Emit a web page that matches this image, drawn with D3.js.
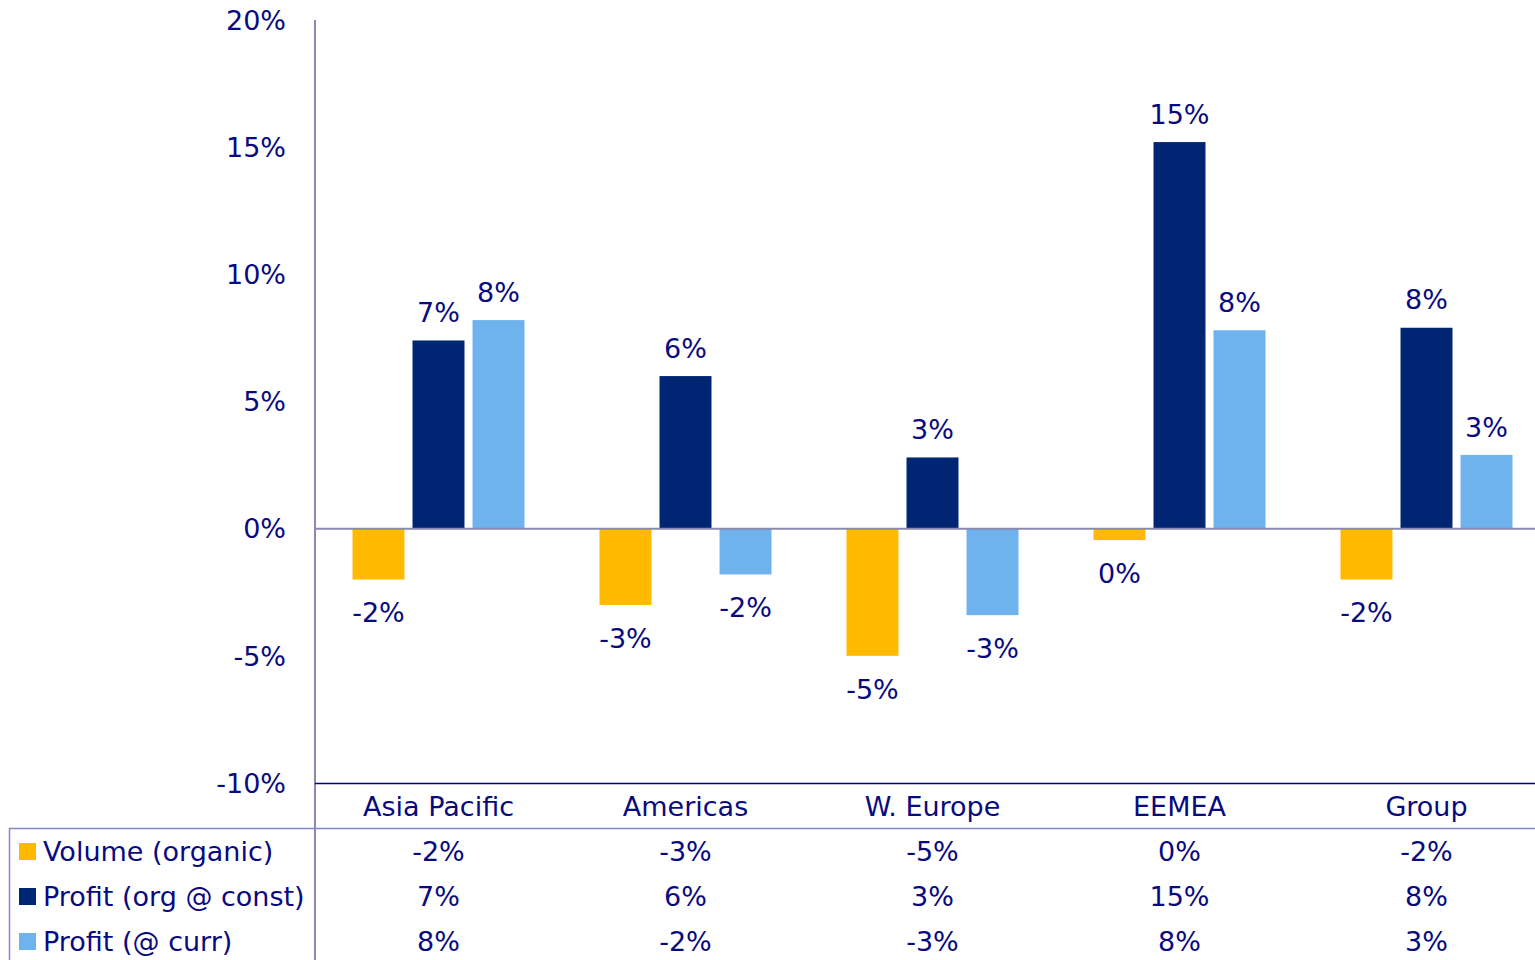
<!DOCTYPE html>
<html><head><meta charset="utf-8">
<script src="https://cdn.jsdelivr.net/npm/d3@7"></script>
<style>html,body{margin:0;padding:0;background:#fff;overflow:hidden}</style>
</head><body>
<svg id="c" width="1535" height="960"></svg>
<script>
const categories = ["Asia Pacific", "Americas", "W. Europe", "EEMEA", "Group"];
const seriesNames = ["Volume (organic)", "Profit (org @ const)", "Profit (@ curr)"];
const volume = [-2.0, -3.0, -5.0, -0.45, -2.0];
const profitConst = [7.4, 6.0, 2.8, 15.2, 7.9];
const profitCurr = [8.2, -1.8, -3.4, 7.8, 2.9];
const yTicks = [-10, -5, 0, 5, 10, 15, 20];
const colors = ["#FFBA00", "#002572", "#6EB3EE"];

const series = [volume, profitConst, profitCurr];
const fmt = v => `${Math.round(v)}%`;
const textColor = "#0a0a80";
const font = "DejaVu Sans";

const svg = d3.select("#c").style("font-family", font);
const x0 = d3.scaleBand().domain(categories).range([315, 1550]).padding(0);
const groupW = 172;
const x1 = d3.scaleBand().domain(seriesNames)
  .range([(x0.bandwidth() - groupW) / 2, (x0.bandwidth() + groupW) / 2]).paddingInner(0.134);
const y = d3.scaleLinear().domain([-10, 20]).range([783, 20]);

// y tick labels
svg.append("g").selectAll("text").data(yTicks).join("text")
  .attr("x", 286).attr("y", d => y(d)).attr("dy", "0.36em")
  .attr("text-anchor", "end").attr("fill", textColor).attr("font-size", 27)
  .text(d => `${d}%`);

// bars
const g = svg.append("g");
categories.forEach((c, i) => {
  series.forEach((s, j) => {
    const v = s[i];
    const bx = x0(c) + x1(seriesNames[j]);
    g.append("rect")
      .attr("x", bx).attr("width", x1.bandwidth())
      .attr("y", y(Math.max(0, v))).attr("height", Math.abs(y(v) - y(0)))
      .attr("fill", colors[j]);
    g.append("text")
      .attr("x", bx + x1.bandwidth() / 2)
      .attr("y", v >= 0 ? y(v) - 28 : y(v) + 33)
      .attr("dy", "0.36em").attr("text-anchor", "middle")
      .attr("fill", textColor).attr("font-size", 27)
      .text(fmt(v));
  });
});

// axis lines
svg.append("line").attr("x1", 315).attr("x2", 1535).attr("y1", y(0)).attr("y2", y(0))
  .attr("stroke", "#8a8ab0").attr("stroke-width", 2);
svg.append("line").attr("x1", 315).attr("x2", 315).attr("y1", 20).attr("y2", 960)
  .attr("stroke", "#8a8ab0").attr("stroke-width", 2);
svg.append("line").attr("x1", 315).attr("x2", 1535).attr("y1", 783.5).attr("y2", 783.5)
  .attr("stroke", "#000080").attr("stroke-width", 1.5);
svg.append("line").attr("x1", 9).attr("x2", 1535).attr("y1", 828.5).attr("y2", 828.5)
  .attr("stroke", "#8585cc").attr("stroke-width", 1.5);
svg.append("line").attr("x1", 9.5).attr("x2", 9.5).attr("y1", 828).attr("y2", 960)
  .attr("stroke", "#8585cc").attr("stroke-width", 1.5);

// category labels
svg.append("g").selectAll("text").data(categories).join("text")
  .attr("x", d => x0(d) + x0.bandwidth() / 2).attr("y", 806).attr("dy", "0.36em")
  .attr("text-anchor", "middle").attr("fill", textColor).attr("font-size", 27)
  .text(d => d);

// data table
const rowY = [851, 896, 941];
series.forEach((s, j) => {
  svg.append("rect").attr("x", 19).attr("y", rowY[j] - 8).attr("width", 17).attr("height", 17)
    .attr("fill", colors[j]);
  svg.append("text").attr("x", 43).attr("y", rowY[j]).attr("dy", "0.36em")
    .attr("fill", textColor).attr("font-size", 27).text(seriesNames[j]);
  categories.forEach((c, i) => {
    svg.append("text").attr("x", x0(c) + x0.bandwidth() / 2).attr("y", rowY[j]).attr("dy", "0.36em")
      .attr("text-anchor", "middle").attr("fill", textColor).attr("font-size", 27)
      .text(fmt(s[i]));
  });
});
</script>
</body></html>
